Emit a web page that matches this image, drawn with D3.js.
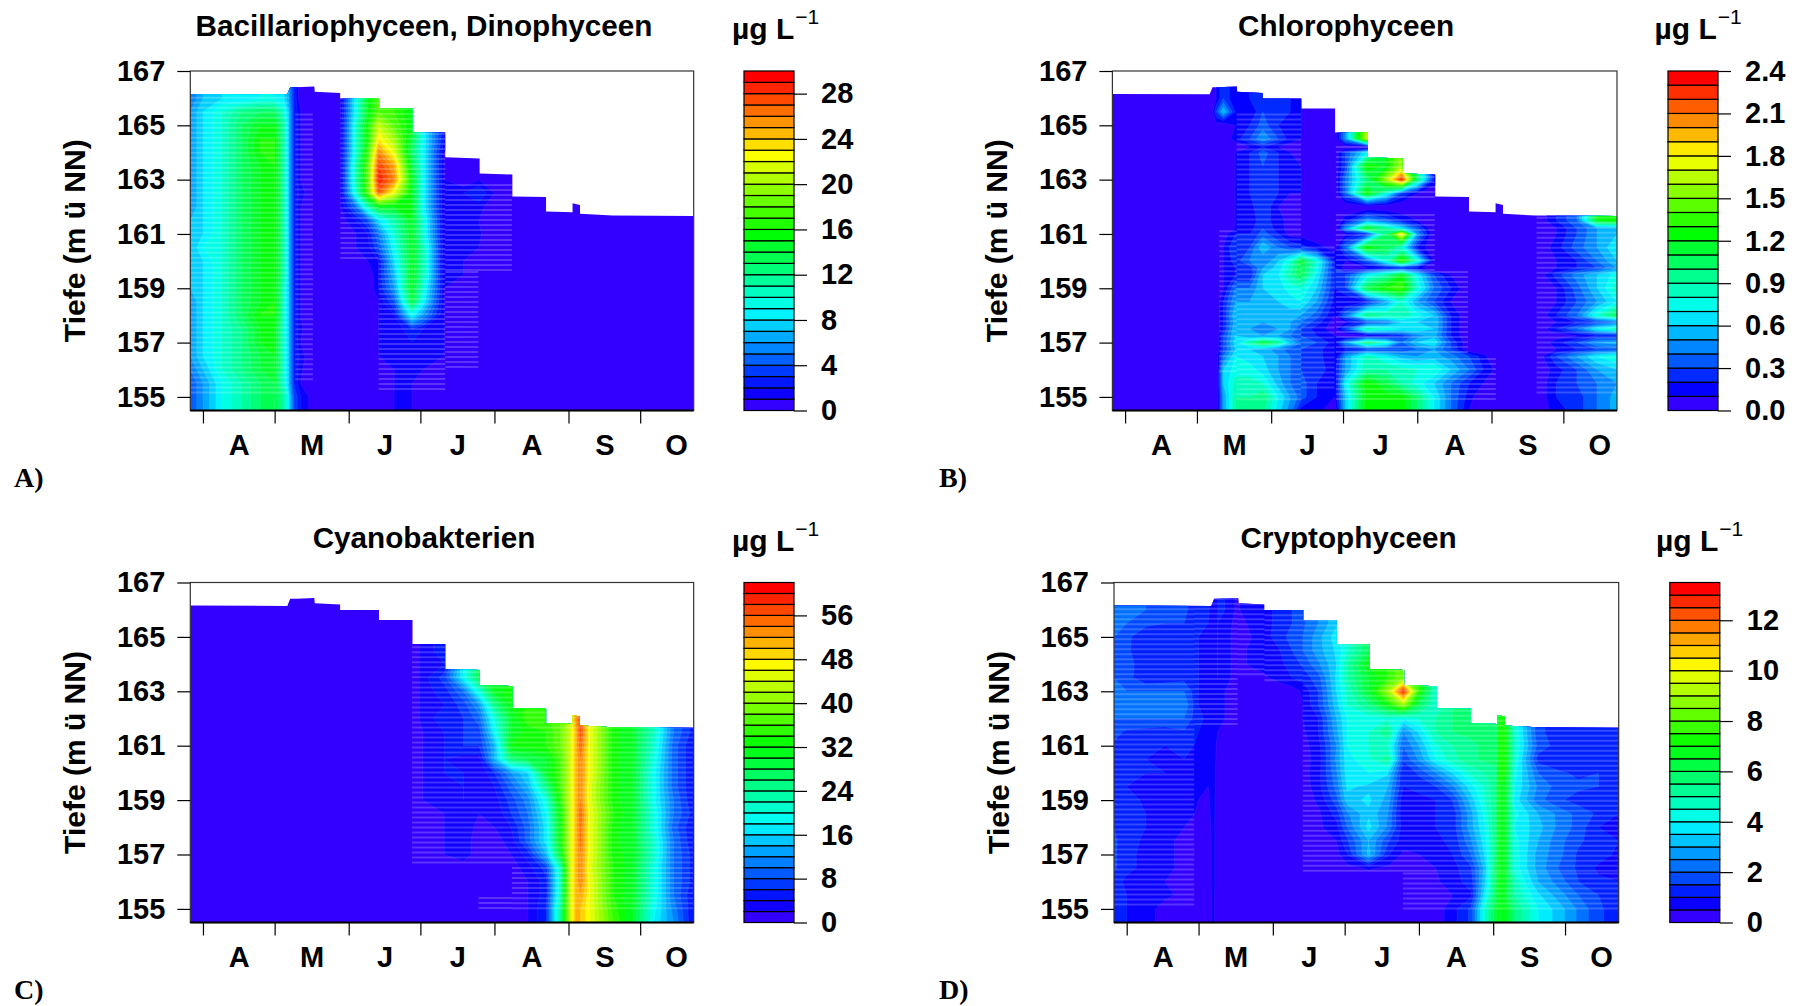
<!DOCTYPE html>
<meta charset="utf-8">
<head>
    <title>Phytoplankton Tiefenprofile</title>
    <script src="https://d3js.org/d3.v7.min.js" charset="utf-8"></script>
    <style>
        html, body { margin: 0; background: #fff; }
        text { font-family: "Liberation Sans", Arial, sans-serif; font-weight: bold; fill: #000; }
        .tick text { font-size: 29px; }
        .corner { font-family: "Liberation Serif", serif; font-size: 28px; }
        .sup { font-weight: normal; font-size: 21px; }
    </style>
</head>
<body>
<div id="chart"></div>
<script>
// Rasterpunkte: Tage ab 1. April und Tiefe (m ü NN)
const sampleDays = [-5.3,0,8,16,24,30,34,36,38,41,46,52,57.5,64,69,73.5,80,87.5,92,101,109,115.5,122,129,136,143.6,149.5,153.7,155.8,158,162,171.8,180,188.6,197,205.4];
const depths = [166.5,166,165.5,165,164.5,164,163.5,163,162.5,162,161.5,161,160.5,160,159.5,159,158.5,158,157.5,157,156.5,156,155.5,155,154.5];
const chloroDepths = [166.5,166,165.5,165,164.5,164.2,164,163.5,163,162.5,162,161.5,161.2,161,160.5,160,159.75,159.5,159,158.5,158,157.75,157.5,157.25,157,156.75,156.5,156,155.5,155,154.5];

// Wasseroberfläche
const surfaceDays = [-5.3,35.3,36.5,38.9,46.6,46.8,57.4,57.4,73.7,73.7,87.7,87.7,101.4,101.4,115.8,115.8,129.5,129.5,143.6,143.6,154.7,154.7,157.8,157.8,171.3,205.4];
const surfaceLevels = [166.15,166.14,166.4,166.4,166.43,166.24,166.19,165.99,165.99,165.62,165.62,164.74,164.74,163.82,163.78,163.23,163.19,162.38,162.36,161.83,161.8,162.13,162.07,161.74,161.68,161.66];

const depthTicks = [167,165,163,161,159,157,155];
const monthStarts = [0,30,61,91,122,153,183];
const monthMiddles = [15,45.5,76,106.5,137.5,168,198];
const monthLabels = ["A","M","J","J","A","S","O"];

const _ = null;  // über der Oberfläche kein Wert
const off18 = [0,0,0,0,0,0,0,0,0,0,0,0,0,0,0,0,0,0];

const bacillarioRows = [
    [],
    [5,7,8,8,9,9,8,6,3,0,0,0],
    [6,8,10,12,13,13,10,7,3,1,0,0,1,9,15,18,17,15],
    [6,8,10,13,15,15,11,7,3,1,0,0,1,10,16,21,18,15],
    [6,8,10,13,16,16,11,7,3,1,0,0,1,10,16,23,20,14,9,2],
    [6,8,10,13,16,16,11,7,3,1,0,0,1,10,17,26,22,13,9,1],
    [6,8,10,13,15,16,11,7,3,1,0,0,1,11,18,28,25,14,9,1,0,0],
    [6,8,10,13,15,16,11,7,3,1,0,0,1,11,18,29,26,15,9,1,0,1,0,0],
    [6,8,10,13,15,16,11,7,3,1.5,0,0,1,10,18,27,22,15,9,1,2,3,1,0],
    [6,8,10,13,15,16,11,7,3,1,0,0,1,5,11,15,15,15,9,1,1.3,1.5,0,0,0,0,_,_,0],
    [7,8,10,13,15,16,11,7,3,1,0,0,.5,2,4,8,11,15,10,1,1.2,1],
    [7,8,10,13,15,16,11,7,3,1,0,0,.5,1,2,5,10,15,10,1,1.2,1.2],
    [7,9,10,13,15,16,11,7,3,1,0,0,.5,1,1.5,4,9,15,11,1.2,1,1],
    [7,8,10,13,15,16,11,7,3,1,0,0,0,0,1,2,8,15,11,1,1,.5],
    [7,8,10,13,15,16,11,7,3,1,0,0,0,0,0,2,7,15,11,1,1,.5],
    [7,8,10,13,15,16,10,7,3,1,0,0,0,0,0,2,6,15,10,1,.5],
    [6,8,10,13,15,16,10,7,3,1,0,0,0,0,0,1,4,14,9,1],
    [6,8,10,13,16,16,10,7,3,1,0,0,0,0,0,1,2,9,6,1],
    [6,8,10,12,15,15,10,7,3,1.2,0,0,0,0,0,1,1,3,2,1,.5],
    [6,8,10,12,15,15,10,7,3,1,0,0,0,0,0,1,1,2,1,1],
    [6,8,10,12,14,15,10,7,3,1.5,0,0,0,0,0,1,1,1.6,1.8,1],
    [5,7,10,12,14,15,10,7,3,1.2,0,0,0,0,0,.8,1,1.2,1,.5],
    [4,6,9,11,13,14,10,7,3,1,0,0,0,0,0,.5,1,1,.7,.3],
    [4,6,9,11,13,14,11,8,4,2,.5,0,0,0,0,.5,1,1,.5],
    [4,6,9,11,13,14,11,8,4,2,.5,0,0,0,0,.5,1,1,.5]
];

const chloroRows = [
    [],
    [0,0,0,0,0,0,0,0,.1,.3,.1,.2],
    [0,0,0,0,0,0,0,0,.3,.6,.2,.1,.3,.2,.2,.1,0,0],
    [0,0,0,0,0,0,0,0,.05,0,.1,.2,.35,.2,.15,.1,0,0],
    [0,0,0,0,0,0,0,0,0,0,.15,.3,.5,.3,.15,.1,0,0,.5,1.7],
    [0,0,0,0,0,0,0,0,0,0,0,.1,.2,.1,.05,0,0,0,0,0],
    [0,0,0,0,0,0,0,0,0,0,.1,.2,.35,.2,.1,.05,0,0,.3,.7],
    [0,0,0,0,0,0,0,0,0,0,.1,.2,.3,.2,.1,.1,0,0,.3,1.3,1.2,1.6],
    [0,0,0,0,0,0,0,0,0,0,.1,.2,.3,.2,.1,.1,0,0,.4,1,1.6,2.3,1,.2],
    [0,0,0,0,0,0,0,0,0,0,.1,.2,.3,.2,.1,.1,0,0,.4,1.3,.8,.3,.1,0],
    [0,0,0,0,0,0,0,0,0,0,.1,.15,.3,.1,.05,0,0,0,0,0,0,0,0,0,0,0,_,_,0],
    [0,0,0,0,0,0,0,0,0,0,.1,.15,.25,.15,.05,0,0,0,.15,.5,.35,.2,.1,0,0,0,0,0,0,0,0,0,.2,.4,1.2,1.3],
    [0,0,0,0,0,0,0,0,0,0,.1,.15,.3,.15,.05,0,0,0,.5,1.25,.95,.7,.35,0,0,0,0,0,0,0,0,0,.1,.3,.5,.5],
    [0,0,0,0,0,0,0,0,0,.05,.2,.2,.35,.2,.05,.05,0,0,.1,.25,1,1.9,.5,0,0,0,0,0,0,0,0,0,.1,.3,.5,.6],
    [0,0,0,0,0,0,0,0,0,.1,.3,.3,.6,.4,.3,.25,.15,.05,.4,1.3,1.1,.8,.2,0,0,0,0,0,0,0,0,0,.15,.35,.5,.7],
    [0,0,0,0,0,0,0,0,0,.1,.25,.4,.4,.6,.8,1.15,.8,.2,.1,.35,.8,1.4,.8,.1,0,0,0,0,0,0,0,0,.1,.2,.4,.6],
    [0,0,0,0,0,0,0,0,0,.1,.2,.25,.5,.65,.85,1.1,.75,.2,.05,.1,.2,.25,.15,0,0,0,0,0,0,0,0,0,.1,.2,.3,.5],
    [0,0,0,0,0,0,0,0,0,.1,.2,.2,.6,.7,.9,1.1,.7,.2,.3,.7,.9,1.2,.7,.3,.1,0,0,0,0,0,0,0,.25,.45,.6,.75],
    [0,0,0,0,0,0,0,0,0,.1,.4,.4,.6,.65,.75,.8,.6,.2,.3,1.1,1.3,1.4,.8,.4,.2,0,0,0,0,0,0,0,.1,.35,.6,.85],
    [0,0,0,0,0,0,0,0,0,.2,.5,.5,.55,.6,.65,.7,.5,.15,.1,.2,.5,.8,.5,.3,.1,0,0,0,0,0,0,0,.1,.3,.5,.7],
    [0,0,0,0,0,0,0,0,0,.2,.6,.5,.5,.5,.55,.5,.35,.1,.4,1,.9,.9,.75,.6,.2,0,0,0,0,0,0,0,.2,.4,.8,1.1],
    [0,0,0,0,0,0,0,0,0,.2,.55,.5,.5,.5,.5,.4,.25,.05,.1,.3,.4,.6,.6,.6,.2,0,0,0,0,0,0,0,.1,.2,.3,.4],
    [0,0,0,0,0,0,0,0,0,.2,.6,.5,.45,.5,.5,.3,.15,.05,.3,.9,.8,.7,.7,.6,.2,0,0,0,0,0,0,0,.2,.4,.7,.9],
    [0,0,0,0,0,0,0,0,0,.3,.6,.5,.5,.5,.4,.3,.2,.1,0,.1,.15,.25,.45,.55,.2,0,0,0,0,0,0,0,.05,.1,.2,.2],
    [0,0,0,0,0,0,0,0,0,.3,.65,.9,1.15,.95,.6,.4,.3,.15,.5,1.05,.8,.4,.6,.7,.3,0,0,0,0,0,0,0,.15,.3,.5,.55],
    [0,0,0,0,0,0,0,0,0,.3,.6,.6,.55,.45,.35,.3,.25,.1,.2,.3,.3,.3,.4,.5,.3,0,0,0,0,0,0,0,.1,.2,.3,.35],
    [0,0,0,0,0,0,0,0,0,.4,.7,.65,.6,.5,.4,.3,.25,.1,.5,.85,.7,.55,.5,.55,.45,.3,.15,0,0,0,0,0,.3,.5,.7,.8],
    [0,0,0,0,0,0,0,0,0,.6,.75,.75,.65,.5,.4,.3,.25,.15,.5,.9,.9,.85,.8,.8,.6,.4,.2,.1,0,0,0,0,.15,.3,.5,.6],
    [0,0,0,0,0,0,0,0,0,.6,.85,.85,.8,.55,.4,.35,.2,.1,.7,1.3,1.1,.9,.75,.6,.4,.2,.1,0,0,0,0,0,.2,.3,.4,.5],
    [0,0,0,0,0,0,0,0,0,.5,.9,.9,1,.7,.5,.35,.2,.1,.6,1.25,1.25,1.25,1,.7,.4,.15,0,0,0,0,0,0,.2,.25,.4,.55],
    [0,0,0,0,0,0,0,0,0,.5,.9,.9,.95,.65,.45,.15,.15,0,.6,1.3,1.3,1.3,1,.7,.4,.1,0,0,0,0,0,0,.15,.25,.4,.55]
];

const cyanoRows = [
    [],
    [],
    [],
    [],
    [...off18,3,5],
    [...off18,3,4],
    [...off18,3,7,18,28],
    [...off18,3,5,10,20,31,33],
    [...off18,3,4,7,12,25,32],
    [...off18,3,5,6,9,20,30,35,35,_,_,52],
    [...off18,2,4,6,7,18,30,33,34,38,44,50,57,46,33,30,22,10,5],
    [...off18,2,4,6,6,14,32,33,34,38,44,50,56,46,33,30,21,9,4],
    [...off18,2,4,3,3,14,26,28,30,36,44,50,54,46,33,30,20,9,4],
    [...off18,2,4,4,2,6,12,16,30,36,44,50,54,46,33,30,19,9,4],
    [...off18,2,3,4,2,4,9,14,25,36,44,50,54,45,33,30,19,9,4],
    [...off18,2,3,4,2,3,7,11,20,34,44,50,54,45,33,30,19,10,4],
    [...off18,1,2,3,2,2,6,10,18,32,44,50,56,46,34,30,20,10,5],
    [...off18,1,2,4,1,2,4,9,17,32,44,50,55,46,33,30,20,9,4],
    [...off18,1,2,3,1,1,3,9,17,32,44,50,55,46,33,30,21,10,4],
    [...off18,1,2,3,1,1,2,5,14,30,44,50,54,46,33,31,21,10,5],
    [...off18,0,1,1,0,1,1,3,7,22,44,50,54,45,34,30,20,10,5],
    [...off18,0,0,0,0,0,1,2,5,22,44,50,54,46,34,30,20,10,5],
    [...off18,0,0,0,0,0,1,2,5,22,44,50,52,46,34,30,20,10,4],
    [...off18,0,0,0,0,0,1,2,6,24,44,50,50,46,35,30,19,11,4],
    [...off18,0,0,0,0,0,1,2,6,24,44,50,50,46,36,30,18,12,4]
];

const cryptoRows = [
    [],
    [2,2,2,1.8,1.6,1.2,1.1,.7,1,1,.4,.9],
    [2,2,1.6,1.5,1.5,1.1,1,.7,1,.8,.3,.6,.8,1.2,1.5,1.9,2.5,3.4],
    [2,1.6,1.2,1.2,1.3,1,.9,.7,1,.7,.3,.5,.7,1.4,1.6,2,2.8,3.8],
    [2,1.6,1.1,1.2,1.3,1,.9,.7,1,.7,.3,.6,.8,1,1.5,2,2.8,3.6,4.5,6],
    [2,1.7,1.2,1.3,1.4,1,.9,.7,1,.7,.3,.6,.7,.9,1.2,1.6,2.4,3.5,5,7],
    [2,1.7,1.1,1.2,1.3,1,.9,.7,1,.7,.3,.2,.4,.8,1,1.2,1.8,3.6,5,6.5,7.5,8.5],
    [2,2,2,2,2,1,.9,.7,.9,.5,.3,0,0,0,.2,.6,1.5,3.5,4.6,6.5,9,13,7.5,4.5],
    [2,2,2,2.4,2.4,1,.9,.7,.9,.5,.3,0,0,0,.2,.5,1.5,3.3,4.5,5.5,7,9,6,4.5],
    [2,2,2,2,2,1.1,.9,.7,.8,.5,.3,0,0,0,.2,.5,1,3,4,4.2,4.5,4,4.5,5,5.5,6,_,_,7],
    [1.7,1.4,1.3,1.2,1.4,1,.9,.7,.5,.2,0,0,0,0,0,.4,1,2.8,4,4.5,5.5,2.5,3.6,5,5.5,5.6,5.6,5.6,7,7,4.5,1.6,1.3,1.1,1.1,1],
    [1.4,1.2,1,1,1.2,.9,.9,.7,.4,0,0,0,0,0,0,.3,.8,2.5,4,4.5,4.5,2,3,4.4,5,5.4,5.6,5.6,7,7,4.6,1.8,1.3,1.2,1.4,1.4],
    [1.4,1.1,1,.8,1,.8,.7,.8,.3,0,0,0,0,0,0,.3,.7,2.6,3.8,4.4,5.3,1.6,2.6,4,4.8,5.4,5.6,5.6,7,7,4.5,1.3,1.1,1,1.1,1],
    [1.5,1.2,1,1,.9,.7,.6,.8,.2,0,0,0,0,0,0,.3,.8,2.4,3.8,4,3.6,1,1.6,2.5,3.5,4.6,5,5.4,7,7,4.2,2,1.6,1.4,1.5,1.4],
    [1.4,1,.9,.8,.8,.6,.5,.8,.2,0,0,0,0,0,0,.2,.8,2.2,3.6,3.4,3,1,1.2,1.5,2.4,3.8,4.6,5.4,7,6.8,4,2.4,1.8,1.6,1.5,1.2],
    [1.5,1.2,.9,.9,.9,.5,.4,.8,.1,0,0,0,0,0,0,.2,.6,1.8,3.3,3.6,2.8,.6,.8,1,1.5,3.2,4.5,5.4,7,6.8,3.8,2.2,1.6,1.3,1.2,1],
    [1.5,1.2,1,.9,.8,.4,.3,.8,.1,0,0,0,0,0,0,.2,.4,1.2,2.4,3.4,2.5,.6,.7,1,1.2,2.8,4.2,5.4,7,6.6,4.2,3,2.4,1.8,1.4,1],
    [1.5,1.1,1,.7,.5,.2,.1,.8,0,0,0,0,0,0,0,.1,.4,.8,2,3.7,2.4,.7,.8,1,1.2,2.8,4,5.4,7,6.6,4,3.2,2.4,1.8,1,.8],
    [1.6,1.2,.9,.6,.4,0,0,.8,0,0,0,0,0,0,0,0,.2,.5,1.4,3,1.6,.7,.8,.9,1.1,2.4,3.8,5.4,7,6.6,4.2,3,2.2,1.6,1.2,1],
    [1.6,1.1,.9,.6,.4,0,0,.8,0,0,0,0,0,0,0,0,0,.3,1,3.2,1.1,.4,.5,.8,1,2,3.6,5.4,7,6.6,4.3,2.8,2.2,1.4,1.2,.9],
    [1.6,1.1,.9,.6,.4,0,0,.8,0,0,0,0,0,0,0,0,0,0,.3,.6,.4,0,.2,.5,.8,1.4,3.2,5.6,7,6.6,4.3,2.8,2,1.4,.9,.9],
    [1.2,.9,.6,.5,.4,0,0,.8,0,0,0,0,0,0,0,0,0,0,0,0,0,0,0,.4,.8,1.2,3.4,5.6,7,6.6,4.8,3,2.3,1.5,1.1,1],
    [1.4,1,.7,.6,.4,0,0,.7,0,0,0,0,0,0,0,0,0,0,0,0,0,0,0,.2,.5,.9,3.8,5.8,7,6.5,5,3.6,2.8,2,1.5,1.2],
    [1,1,.7,.3,0,0,0,.7,0,0,0,0,0,0,0,0,0,0,0,0,0,0,0,.2,.8,1.6,4.5,6.2,7,6.8,5.5,4,3.3,2.4,1.6,1.2],
    [1,1,.7,.3,0,0,0,.7,0,0,0,0,0,0,0,0,0,0,0,0,0,0,0,.2,.8,1.6,4.5,6.2,7,6.8,5.5,4,3.3,2.4,1.6,1.2]
];

// Bereiche mit hellen Querstreifen: Tag von, Tag bis, Tiefe oben, Tiefe unten
const bacillarioStripes = [[-5.3,36,166.2,155],[38.6,46,165.4,155.5],[57.5,73.5,166,160],[73.5,101.4,165.6,155.2],[101.4,129.3,162.8,159.6],[101.4,115.3,159.6,156.1]];
const chloroStripes = [[39.3,46.6,161.1,155.9],[46.6,73.5,165.4,154.9],[73.5,87.5,160.5,155.2],[88,129.3,164.2,162.2],[88,129.3,161.7,159.6],[88,143.2,159.6,156.6],[88,154.8,156.4,154.8],[171.8,205.4,161.6,155.1]];
const cyanoStripes = [[87.5,205.4,164.8,156.55],[129.3,205.4,156.5,155],[115.3,129.3,155.4,154.9]];
const cryptoStripes = [[-5.3,28.2,166.2,155],[28.2,46.3,166.4,161.7],[46.3,57.5,166.2,163.45],[57.5,73.5,165.8,163.3],[73.5,205.4,165.6,156.3],[115.3,205.4,156.3,155]];

const panels = [
    {title: "Bacillariophyceen, Dinophyceen", tag: "A)", rows: bacillarioRows, depths: depths, stripes: bacillarioStripes, max: 30, step: 1, ticks: [0,4,8,12,16,20,24,28], fmt: "d",
     left: 190.3, right: 693.7, top: 71, bottom: 410.5, barLeft: 744, titleX: 424, unitX: 732, tagX: 14},
    {title: "Chlorophyceen", tag: "B)", rows: chloroRows, depths: chloroDepths, stripes: chloroStripes, max: 2.4, step: .1, ticks: [0,.3,.6,.9,1.2,1.5,1.8,2.1,2.4], fmt: ".1f",
     left: 1112.4, right: 1617, top: 71, bottom: 410.5, barLeft: 1668, titleX: 1346, unitX: 1654.5, tagX: 939},
    {title: "Cyanobakterien", tag: "C)", rows: cyanoRows, depths: depths, stripes: cyanoStripes, max: 62, step: 2, ticks: [0,8,16,24,32,40,48,56], fmt: "d",
     left: 190.3, right: 693.7, top: 582.5, bottom: 922.5, barLeft: 744, titleX: 424, unitX: 732, tagX: 14},
    {title: "Cryptophyceen", tag: "D)", rows: cryptoRows, depths: depths, stripes: cryptoStripes, max: 13.5, step: .5, ticks: [0,2,4,6,8,10,12], fmt: "d",
     left: 1114, right: 1618.7, top: 582.5, bottom: 922.5, barLeft: 1669.8, titleX: 1348.5, unitX: 1656, tagX: 939}
];

const svg = d3.select("#chart").append("svg")
    .attr("width", 1798)
    .attr("height", 1006)
    .style("display", "block");

// fehlende Werte von unten nach oben auffüllen
function fullGrid(rows) {
    const n = sampleDays.length;
    const grid = new Array(rows.length * n);
    for (let r = rows.length - 1; r >= 0; r--) {
        for (let c = 0; c < n; c++) {
            const v = rows[r][c];
            const below = r < rows.length - 1 ? grid[(r + 1) * n + c] : 0;
            grid[r * n + c] = (v === undefined || v === null) ? below : v;
        }
    }
    return grid;
}

function rainbow(i, n) {
    return d3.hsl(252 * (1 - i / (n - 1)), 1, .5).formatHex();
}

panels.forEach(function(p, idx) {
    const x = d3.scaleLinear().domain([-5.3, 205.4]).range([p.left, p.right]);
    const y = d3.scaleLinear().domain([154.5, 167]).range([p.bottom, p.top]);

    // Rasterindex -> Tag / Tiefe
    const colDay = d3.scaleLinear().domain(sampleDays.map((d, i) => i + .5)).range(sampleDays).clamp(true);
    const rowDepth = d3.scaleLinear().domain(p.depths.map((d, i) => i + .5)).range(p.depths).clamp(true);

    const clipId = "surface" + idx;
    const water = d3.area()
        .x((d, i) => x(surfaceDays[i]))
        .y0(p.bottom)
        .y1((d, i) => y(surfaceLevels[i]));
    svg.append("clipPath").attr("id", clipId)
        .append("path").attr("d", water(surfaceDays));

    const nBands = Math.round(p.max / p.step);
    const thresholds = d3.range(nBands).map(i => i * p.step);
    const contours = d3.contours()
        .size([sampleDays.length, p.depths.length])
        .thresholds(thresholds)(fullGrid(p.rows));

    const path = d3.geoPath(d3.geoTransform({
        point: function(u, v) { this.stream.point(x(colDay(u)), y(rowDepth(v))); }
    }));

    const plot = svg.append("g").attr("clip-path", "url(#" + clipId + ")");

    plot.selectAll("path.band")
        .data(contours)
        .join("path")
        .attr("class", "band")
        .attr("d", path)
        .attr("fill", (d, i) => rainbow(i, nBands))
        .attr("stroke", "#fff")
        .attr("stroke-opacity", .1)
        .attr("stroke-width", .6);

    // helle Querstreifen
    p.stripes.forEach(function(z) {
        plot.append("g").selectAll("line")
            .data(d3.range(z[2], z[3], -.184))
            .join("line")
            .attr("x1", x(z[0])).attr("x2", x(z[1]))
            .attr("y1", d => y(d)).attr("y2", d => y(d))
            .attr("stroke", "#fff")
            .attr("stroke-opacity", .2)
            .attr("stroke-width", 2);
    });

    svg.append("rect")
        .attr("x", p.left).attr("y", p.top)
        .attr("width", p.right - p.left).attr("height", p.bottom - p.top)
        .attr("fill", "none").attr("stroke", "#333").attr("stroke-width", 1.2);

    svg.append("line")
        .attr("x1", p.left).attr("x2", p.right)
        .attr("y1", p.bottom).attr("y2", p.bottom)
        .attr("stroke", "#000").attr("stroke-width", 2);

    // Achsen
    svg.append("g")
        .attr("transform", "translate(" + p.left + ",0)")
        .call(d3.axisLeft(y).tickValues(depthTicks).tickSize(13).tickPadding(12))
        .call(g => g.select(".domain").remove());

    svg.append("g")
        .attr("transform", "translate(0," + p.bottom + ")")
        .call(d3.axisBottom(x).tickValues(monthStarts).tickSize(13).tickFormat(""))
        .call(g => g.select(".domain").remove());

    svg.append("g")
        .attr("transform", "translate(0," + p.bottom + ")")
        .call(d3.axisBottom(x).tickValues(monthMiddles).tickSize(0).tickPadding(24).tickFormat((d, i) => monthLabels[i]))
        .call(g => g.select(".domain").remove());

    svg.append("text")
        .attr("transform", "translate(" + (p.left - 105) + "," + ((p.top + p.bottom) / 2) + ") rotate(-90)")
        .attr("text-anchor", "middle")
        .style("font-size", "30px")
        .text("Tiefe (m ü NN)");

    svg.append("text")
        .attr("x", p.titleX)
        .attr("y", p.top - 35)
        .attr("text-anchor", "middle")
        .style("font-size", "29.7px")
        .text(p.title);

    const unit = svg.append("text")
        .attr("x", p.unitX)
        .attr("y", p.top - 32)
        .style("font-size", "30px");
    unit.append("tspan").text("µg L");
    unit.append("tspan").attr("class", "sup").attr("dx", 1).attr("dy", -15).text("−1");

    // Farbskala
    const barW = 50;
    const barY = d3.scaleLinear().domain([0, p.max]).range([p.bottom, p.top]);
    svg.append("g").selectAll("rect")
        .data(thresholds)
        .join("rect")
        .attr("x", p.barLeft)
        .attr("width", barW)
        .attr("y", d => barY(d + p.step))
        .attr("height", d => barY(d) - barY(d + p.step))
        .attr("fill", (d, i) => rainbow(i, nBands))
        .attr("stroke", "#000")
        .attr("stroke-width", 1.2);

    svg.append("g")
        .attr("transform", "translate(" + (p.barLeft + barW) + ",0)")
        .call(d3.axisRight(barY).tickValues(p.ticks).tickSize(13).tickPadding(14).tickFormat(d3.format(p.fmt)))
        .call(g => g.select(".domain").remove());

    svg.append("text")
        .attr("class", "corner")
        .attr("x", p.tagX)
        .attr("y", p.bottom + 76)
        .text(p.tag);
});

svg.selectAll(".tick line").attr("stroke", "#000").attr("stroke-width", 1.2);
</script>
</body>
